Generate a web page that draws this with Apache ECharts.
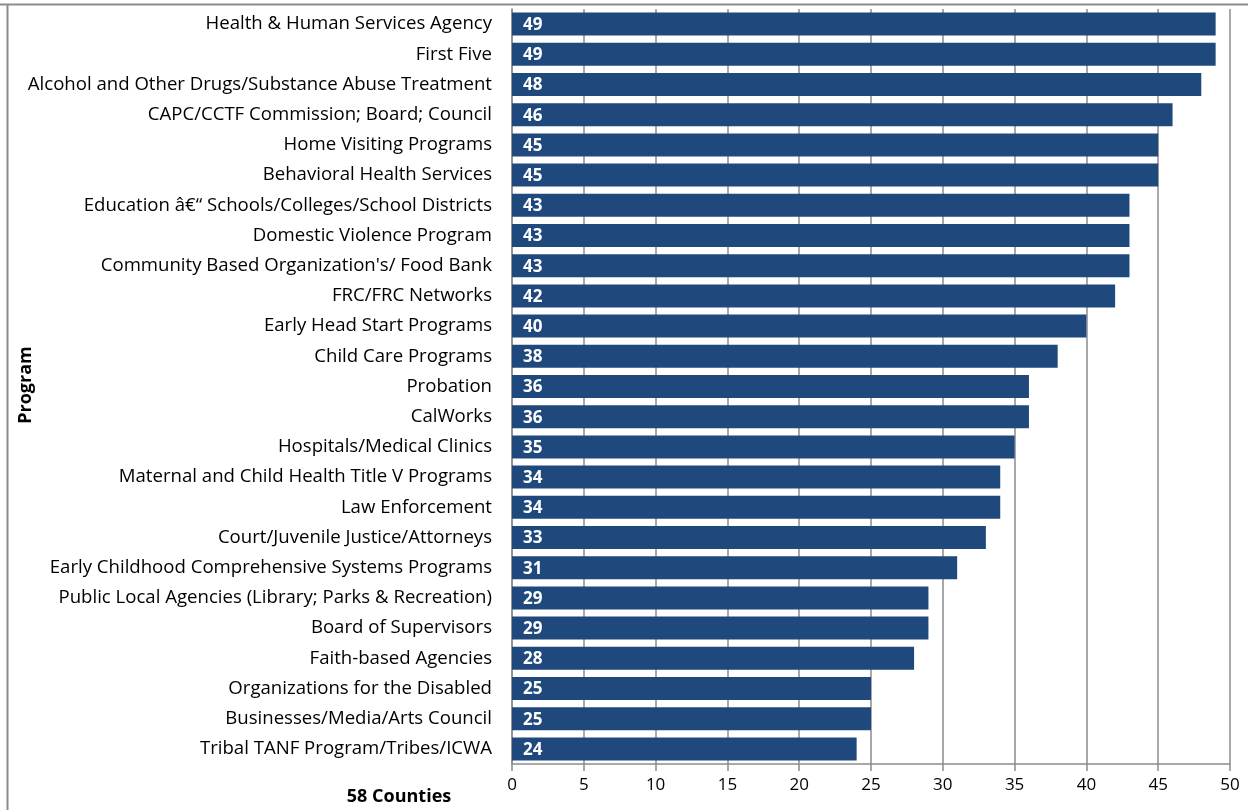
<!DOCTYPE html>
<html><head><meta charset="utf-8">
<script src="https://cdn.jsdelivr.net/npm/echarts@6/dist/echarts.min.js"></script>
<style>html,body{margin:0;padding:0;background:#fff}#c{width:1248px;height:810px}</style>
</head><body><div id="c"></div>
<script>
const categories = [
  "Health & Human Services Agency",
  "First Five",
  "Alcohol and Other Drugs/Substance Abuse Treatment",
  "CAPC/CCTF Commission; Board; Council",
  "Home Visiting Programs",
  "Behavioral Health Services",
  "Education â€“ Schools/Colleges/School Districts",
  "Domestic Violence Program",
  "Community Based Organization's/ Food Bank",
  "FRC/FRC Networks",
  "Early Head Start Programs",
  "Child Care Programs",
  "Probation",
  "CalWorks",
  "Hospitals/Medical Clinics",
  "Maternal and Child Health Title V Programs",
  "Law Enforcement",
  "Court/Juvenile Justice/Attorneys",
  "Early Childhood Comprehensive Systems Programs",
  "Public Local Agencies (Library; Parks & Recreation)",
  "Board of Supervisors",
  "Faith-based Agencies",
  "Organizations for the Disabled",
  "Businesses/Media/Arts Council",
  "Tribal TANF Program/Tribes/ICWA"
];
const values = [49,49,48,46,45,45,43,43,43,42,40,38,36,36,35,34,34,33,31,29,29,28,25,25,24];
const xTicks = {min: 0, max: 50, interval: 5};
const yAxisName = "Program";
const xAxisName = "58 Counties";

const chart = echarts.init(document.getElementById('c'), null, {renderer: 'canvas'});
const font = "Open Sans";
chart.setOption({
  animation: false,
  textStyle: {fontFamily: font},
  grid: {left: 512, right: 18, top: 9, bottom: 46, containLabel: false},
  graphic: [
    {type: 'line', shape: {x1: 0, y1: 4.5, x2: 1248, y2: 4.5}, style: {stroke: '#8c8c8c', lineWidth: 2}},
    {type: 'line', shape: {x1: 7.5, y1: 4, x2: 7.5, y2: 810}, style: {stroke: '#8c8c8c', lineWidth: 2}},
    {type: 'text', x: 26, y: 385, rotation: Math.PI/2, style: {text: yAxisName, font: 'bold 18px "Open Sans"', fill: '#000', textAlign: 'center', textVerticalAlign: 'middle'}},
    {type: 'text', x: 399, y: 797, style: {text: xAxisName, font: 'bold 18px "Open Sans"', fill: '#000', textAlign: 'center', textVerticalAlign: 'middle'}}
  ],
  xAxis: {
    type: 'value', min: xTicks.min, max: xTicks.max, interval: xTicks.interval,
    axisLine: {show: true, lineStyle: {color: '#8c8c8c', width: 1.5}},
    axisTick: {show: true, length: 7, lineStyle: {color: '#8c8c8c', width: 1.5}},
    splitLine: {show: true, lineStyle: {color: '#8c8c8c', width: 1.5}},
    axisLabel: {color: '#000', fontSize: 17, margin: 13, fontFamily: font}
  },
  yAxis: {
    type: 'category', data: categories, inverse: true,
    axisLine: {show: true, lineStyle: {color: '#8c8c8c', width: 1.5}},
    axisTick: {show: false},
    axisLabel: {color: '#000', fontSize: 18.6, margin: 20, fontFamily: font}
  },
  series: [{
    type: 'bar', data: values, barCategoryGap: '24%',
    itemStyle: {color: '#1f497d'},
    label: {show: true, position: 'insideLeft', offset: [6, 1], color: '#fff', fontWeight: 'bold', fontSize: 17, fontFamily: font}
  }]
});
</script></body></html>
